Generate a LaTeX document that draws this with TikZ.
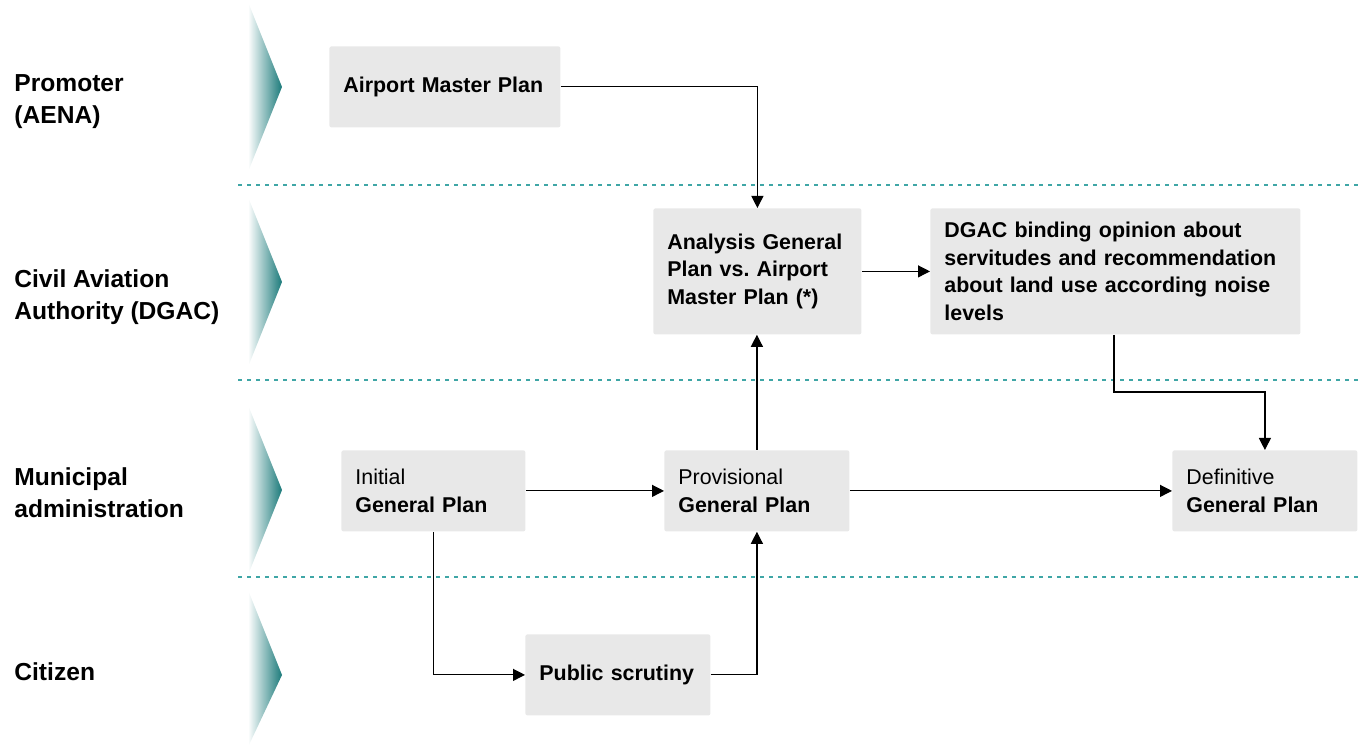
\documentclass[tikz,border=0pt]{standalone}
\usepackage{fontspec}
\setmainfont{Liberation Sans}
\usepackage{tikz}
\usetikzlibrary{arrows.meta,positioning,calc}
\definecolor{lnteal}{HTML}{3FA6A6}
\definecolor{chvteal}{HTML}{1B7A7A}
\definecolor{boxgray}{HTML}{E8E8E8}
\frenchspacing

\begin{document}
\begin{tikzpicture}[
  x=0.5pt,
  y=-0.5pt,
  font=\fontsize{10.7}{13.75}\selectfont\bfseries,
  box/.style={rectangle, rounded corners=1pt, fill=boxgray, anchor=north west, inner xsep=7pt, align=left, minimum height=40.5pt},
  lane/.style={anchor=west, align=left, inner sep=0pt, font=\fontsize{12.3}{16}\selectfont\bfseries},
  flow/.style={-{Triangle[length=6pt, width=6pt]}, line width=0.6pt},
  lanesep/.style={draw=lnteal, line width=0.7pt, dash pattern=on 2pt off 2.5pt}
]
  \useasboundingbox (0,0) rectangle (1361,747);

  % swimlanes
  \foreach \ly in {185,380,577}
    \draw[lanesep] (238,\ly) -- (1361,\ly);
  \foreach \ty/\tb in {87/2,282/197,490/405,675/590}
    \shade[left color=white, right color=chvteal] (248,\tb) -- (282,\ty) -- (248,{min(2*\ty-\tb,747)}) -- cycle;

  \node[lane] (promoter) at (14,102) {Promoter\\(AENA)};
  \node[lane] (dgaclane) at (14,297) {Civil Aviation\\Authority (DGAC)};
  \node[lane] (munilane) at (14,493) {Municipal\\administration};
  \node[lane] (citizen) at (14,672) {Citizen};

  % process boxes
  \node[box, text width=101.5pt] (amp) at (329,46) {Airport Master Plan};
  \node[box, text width=90pt, minimum height=63pt] (ana) at (653,208) {Analysis General\\Plan vs. Airport\\Master Plan (*)};
  \node[box, text width=171pt, minimum height=63pt] (dgac) at (930,208) {DGAC binding opinion about\\servitudes and recommendation\\about land use according noise\\levels};
  \node[box, text width=78pt] (ini) at (341,450) {{\mdseries Initial}\\General Plan};
  \node[box, text width=78.5pt] (prov) at (664,450) {{\mdseries Provisional}\\General Plan};
  \node[box, text width=78.5pt] (defi) at (1172,450) {{\mdseries Definitive}\\General Plan};
  \node[box, text width=78.5pt] (pub) at (525,634) {Public scrutiny};

  \coordinate (bend) at (1114,392);

  % flows
  \draw[flow] (amp.east) -| (ana.north);
  \draw[flow] (ana.east) -- (dgac.west);
  \draw[flow] (dgac.south -| bend) -- (bend) -| (defi.north);
  \draw[flow] (ini.east) -- (prov.west);
  \draw[flow] (prov.east) -- (defi.west);
  \draw[flow] (prov.north) -- (prov.north |- ana.south);
  \draw[flow] (ini.south) |- (pub.west);
  \draw[flow] (pub.east) -| (prov.south);
\end{tikzpicture}
\end{document}
